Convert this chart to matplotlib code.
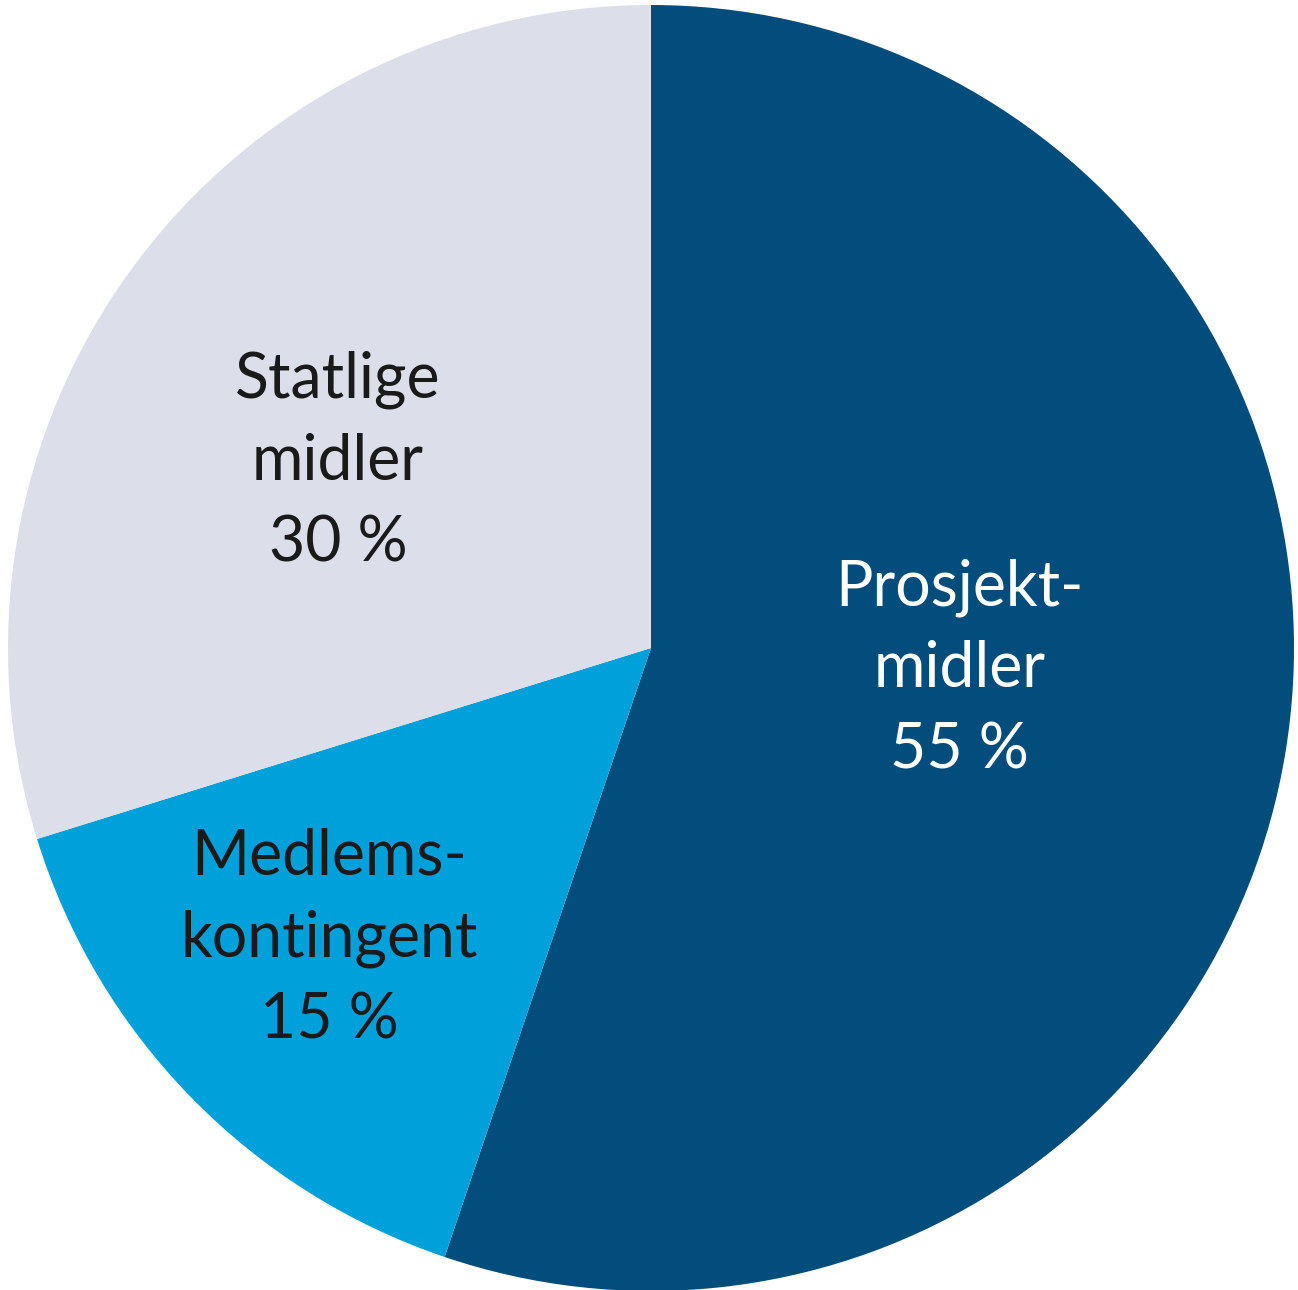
import matplotlib
matplotlib.use("Agg")
import matplotlib.pyplot as plt

# data (shares; labels show rounded values)
labels = ["Prosjekt-\nmidler", "Medlems-\nkontingent", "Statlige\nmidler"]
shares = [55.2, 15.0, 29.8]
shown = [55, 15, 30]
colors = ["#024D7C", "#00A0DA", "#DCDEEA"]
text_colors = ["white", "#1a1a1a", "#1a1a1a"]
# label centres in axis units (radius = 1)
label_xy = [(0.48, -0.033), (-0.50, -0.452), (-0.487, 0.29)]

plt.rcParams["font.family"] = ["Lato", "DejaVu Sans"]

W, H = 1298, 1290
fig = plt.figure(figsize=(W / 100, H / 100), dpi=100)
cx, cy, r = 651, 648, 643
ax = fig.add_axes([(cx - r) / W, (H - cy - r) / H, 2 * r / W, 2 * r / H])

ax.pie(shares, colors=colors, startangle=90, counterclock=False,
       radius=1, wedgeprops=dict(linewidth=0))
ax.set_xlim(-1, 1)
ax.set_ylim(-1, 1)
ax.set_aspect("auto")
ax.axis("off")

for lab, val, (x, y), tc in zip(labels, shown, label_xy, text_colors):
    ax.text(x, y, f"{lab}\n{val} %", ha="center", va="center",
            fontsize=45, color=tc, linespacing=1.5)

fig.savefig("out.png", dpi=100)
